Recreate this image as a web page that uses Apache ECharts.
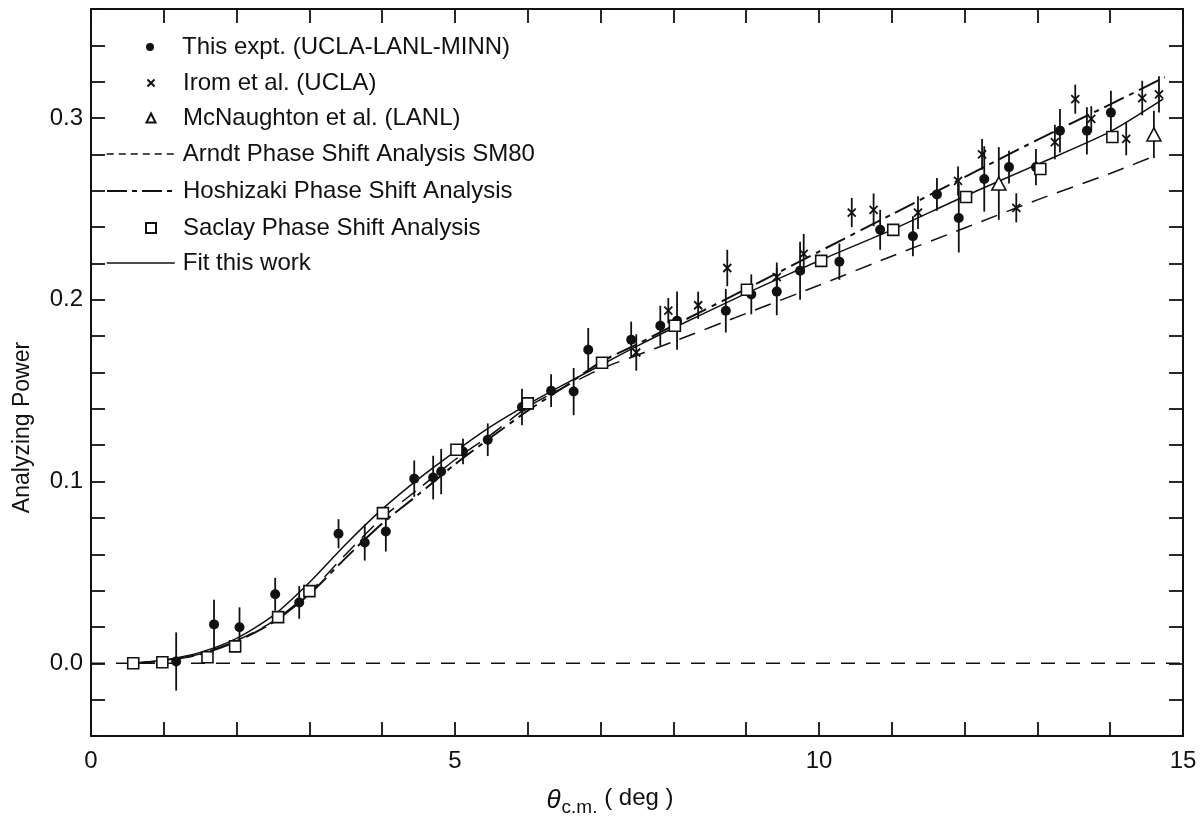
<!DOCTYPE html>
<html>
<head>
<meta charset="utf-8">
<script src="https://cdn.jsdelivr.net/npm/echarts@6/dist/echarts.min.js"></script>
<style>
html,body{margin:0;padding:0;background:#fff;overflow:hidden;}
#chart{width:1203px;height:819px;}
</style>
</head>
<body>
<div id="chart"></div>
<script>
// ---- Data ----
const exptX = [1.17,1.69,2.04,2.53,2.86,3.40,3.76,4.05,4.44,4.70,4.81,5.11,5.45,5.92,6.32,6.63,6.83,7.42,7.82,8.05,8.72,9.07,9.42,9.74,10.28,10.84,11.29,11.62,11.92,12.27,12.61,12.98,13.31,13.68,14.01];
const exptY = [0.001,0.0214,0.0198,0.038,0.0335,0.0713,0.0665,0.0725,0.1016,0.1022,0.1055,0.1165,0.123,0.141,0.150,0.1495,0.1725,0.178,0.1857,0.1885,0.194,0.203,0.2045,0.216,0.221,0.2385,0.235,0.258,0.245,0.2665,0.273,0.273,0.293,0.293,0.303];
const exptErr = [0.016,0.0135,0.011,0.009,0.009,0.008,0.01,0.011,0.01,0.012,0.0125,0.007,0.009,0.01,0.009,0.013,0.012,0.01,0.011,0.016,0.012,0.011,0.013,0.016,0.01,0.011,0.011,0.009,0.019,0.018,0.009,0.01,0.012,0.013,0.012];

const iromX = [7.49,7.93,8.34,8.74,9.42,9.79,10.45,10.75,11.36,11.91,12.24,12.71,13.24,13.52,13.74,14.22,14.44,14.67];
const iromY = [0.171,0.194,0.197,0.2175,0.2125,0.2253,0.248,0.2495,0.248,0.2654,0.280,0.2506,0.2868,0.3104,0.2995,0.2885,0.311,0.313];
const iromErr = [0.01,0.007,0.0075,0.01,0.008,0.011,0.008,0.009,0.009,0.008,0.0085,0.008,0.0095,0.008,0.007,0.009,0.0095,0.01];

const mcnX = [12.47,14.6];
const mcnY = [0.264,0.291];
const mcnErr = [0.02,0.013];

const saclayX = [0.58,0.98,1.6,1.98,2.57,3.0,4.01,5.02,6.0,7.02,8.02,9.01,10.03,11.02,12.02,13.04,14.03];
const saclayY = [0.0,0.0006,0.0033,0.0093,0.0254,0.0397,0.0826,0.1175,0.143,0.1654,0.1857,0.2055,0.2214,0.2385,0.2566,0.272,0.2896];

const arndtX = [0.58,1.0,1.5,2.0,2.5,3.0,3.5,4.0,4.5,5.0,5.5,6.0,6.5,7.0,7.5,8.0,9.0,10.0,11.0,12.0,13.0,14.0,14.6];
const arndtY = [0.0,0.0015,0.0052,0.0125,0.023,0.039,0.060,0.080,0.096,0.112,0.126,0.141,0.152,0.162,0.1695,0.177,0.1925,0.208,0.224,0.2395,0.255,0.2695,0.279];

const hoshX = [0.58,1.0,1.5,2.0,2.5,3.0,3.5,4.0,4.5,5.0,5.5,6.0,6.5,7.0,7.5,8.0,9.0,10.0,11.0,12.0,13.0,14.0,14.75];
const hoshY = [0.0,0.0015,0.005,0.012,0.0225,0.038,0.058,0.077,0.093,0.1095,0.1245,0.139,0.152,0.1657,0.1755,0.1858,0.206,0.2265,0.247,0.2675,0.288,0.3075,0.3225];

const fitX = [0.58,1.0,1.5,2.0,2.5,3.0,3.5,4.0,4.5,5.0,5.5,6.0,6.5,7.0,7.5,8.0,9.0,10.0,11.0,12.0,13.0,14.0,14.73];
const fitY = [0.0,0.0018,0.006,0.0137,0.0262,0.0445,0.0655,0.0848,0.1015,0.1165,0.1305,0.1425,0.1535,0.164,0.1745,0.1845,0.2035,0.2215,0.2385,0.257,0.2745,0.2925,0.3105];

const zeroX = [0, 15];
const zeroY = [0, 0];

const xTickLabels = [0, 5, 10, 15];
const yTickLabels = [0.0, 0.1, 0.2, 0.3];

const NAMES = {
  expt: 'This expt. (UCLA-LANL-MINN)',
  irom: 'Irom et al. (UCLA)',
  mcn: 'McNaughton et al. (LANL)',
  arndt: 'Arndt Phase Shift Analysis SM80',
  hosh: 'Hoshizaki Phase Shift Analysis',
  saclay: 'Saclay Phase Shift Analysis',
  fit: 'Fit this work'
};

// ---- helpers ----
const zip = (xs, ys) => xs.map((x, i) => [x, ys[i]]);
const zip3 = (xs, ys, es) => xs.map((x, i) => [x, ys[i], es[i]]);
const FONT = "'Liberation Sans', Arial, sans-serif";
const BLACK = '#111';

function errorBars(data) {
  return {
    type: 'custom',
    silent: true,
    z: 3,
    data: data,
    encode: { x: 0, y: 1 },
    renderItem: function (params, api) {
      const x = api.value(0), y = api.value(1), e = api.value(2);
      const p1 = api.coord([x, y - e]);
      const p2 = api.coord([x, y + e]);
      return {
        type: 'line',
        shape: { x1: p1[0], y1: p1[1], x2: p2[0], y2: p2[1] },
        style: { stroke: BLACK, lineWidth: 1.8 }
      };
    }
  };
}

const crossPath = 'path://M0,0 L10,10 M10,0 L0,10';

function legendRow(name, centerY, kind, extra) {
  const base = {
    show: true,
    data: [name],
    orient: 'vertical',
    selectedMode: false,
    padding: 0,
    textStyle: { fontFamily: FONT, fontSize: 24, color: BLACK, lineHeight: 24 },
    top: centerY - 12
  };
  if (kind === 'symbol') {
    base.itemWidth = extra.size || 9;
    base.itemHeight = extra.size || 9;
    base.left = 150 - base.itemWidth / 2;
    base.textStyle.padding = [0, 0, 0, 182 - (base.left + base.itemWidth + 5)];
  } else {
    base.itemWidth = 68;
    base.itemHeight = 10;
    base.left = 106;
    base.textStyle.padding = [0, 0, 0, 182 - (106 + 68 + 5)];
    base.lineStyle = extra.lineStyle;
    base.itemStyle = { opacity: 0 };
  }
  return base;
}

const chart = echarts.init(document.getElementById('chart'), null, { renderer: 'canvas', width: 1203, height: 819 });

const axisCommon = {
  axisLine: { show: true, onZero: false, lineStyle: { color: BLACK, width: 2 } },
  axisTick: { show: true, inside: true, length: 14, lineStyle: { color: BLACK, width: 1.8 } },
  splitLine: { show: false }
};

const option = {
  backgroundColor: '#fff',
  animation: false,
  color: [BLACK],
  grid: { left: 91, right: 20, top: 9, bottom: 83, containLabel: false, outerBoundsMode: 'none' },
  legend: [
    legendRow(NAMES.expt, 47, 'symbol', { size: 8 }),
    legendRow(NAMES.irom, 83, 'symbol', { size: 7 }),
    legendRow(NAMES.mcn, 118, 'symbol', { size: 9 }),
    legendRow(NAMES.arndt, 154, 'line', { lineStyle: { type: [7, 5], width: 1.5, color: BLACK, opacity: 1 } }),
    legendRow(NAMES.hosh, 191, 'line', { lineStyle: { type: [20, 5, 5, 5], width: 2, color: BLACK, opacity: 1 } }),
    legendRow(NAMES.saclay, 228, 'symbol', { size: 10 }),
    legendRow(NAMES.fit, 263, 'line', { lineStyle: { type: 'solid', width: 1.5, color: BLACK, opacity: 1 } })
  ],
  xAxis: [
    Object.assign({
      type: 'value', position: 'bottom', min: 0, max: 15, interval: 1,
      name: '{t|θ}{s|c.m.}{n| ( deg )}',
      nameLocation: 'middle', nameGap: 48,
      nameTextStyle: {
        padding: [0, 54, 0, 0],
        rich: {
          t: { fontFamily: FONT, fontSize: 26, fontStyle: 'italic', color: BLACK, verticalAlign: 'middle' },
          s: { fontFamily: FONT, fontSize: 19, color: BLACK, padding: [14, 0, 0, 1] },
          n: { fontFamily: FONT, fontSize: 24, color: BLACK, padding: [0, 0, 4, 0] }
        }
      },
      axisLabel: {
        show: true, margin: 13, fontFamily: FONT, fontSize: 24, color: BLACK,
        formatter: v => (xTickLabels.indexOf(v) >= 0 ? String(v) : '')
      }
    }, axisCommon),
    Object.assign({
      type: 'value', position: 'top', min: 0, max: 15, interval: 1,
      axisLabel: { show: false }
    }, axisCommon)
  ],
  yAxis: [
    Object.assign({
      type: 'value', position: 'left', min: -0.04, max: 0.36, interval: 0.02,
      name: 'Analyzing Power', nameLocation: 'middle', nameGap: 57, nameRotate: 90,
      nameTextStyle: { fontFamily: FONT, fontSize: 23, color: BLACK, padding: [0, 110, 0, 0] },
      axisLabel: {
        show: true, margin: 8, fontFamily: FONT, fontSize: 24, color: BLACK,
        formatter: function (v) {
          const r = Math.round(v * 10) / 10 + 0;
          if (Math.abs(v - r) > 1e-6) return '';
          return yTickLabels.some(t => Math.abs(t - r) < 1e-6) ? r.toFixed(1) : '';
        }
      }
    }, axisCommon),
    Object.assign({
      type: 'value', position: 'right', min: -0.04, max: 0.36, interval: 0.02,
      axisLabel: { show: false }
    }, axisCommon)
  ],
  series: [
    {
      name: 'zero', type: 'line', data: zip(zeroX, zeroY), symbol: 'none', silent: true,
      lineStyle: { color: BLACK, width: 1.5, type: [14, 11] }, z: 1
    },
    {
      name: NAMES.arndt, type: 'line', data: zip(arndtX, arndtY), symbol: 'none', color: BLACK,
      smooth: 0.25, lineStyle: { color: BLACK, width: 1.5, type: [17, 10] }, z: 2
    },
    {
      name: NAMES.hosh, type: 'line', data: zip(hoshX, hoshY), symbol: 'none', color: BLACK,
      smooth: 0.25, lineStyle: { color: BLACK, width: 2, type: [22, 6, 5, 6] }, z: 2
    },
    {
      name: NAMES.fit, type: 'line', data: zip(fitX, fitY), symbol: 'none', color: BLACK,
      smooth: 0.25, lineStyle: { color: BLACK, width: 1.5, type: 'solid' }, z: 2
    },
    errorBars(zip3(exptX, exptY, exptErr)),
    errorBars(zip3(iromX, iromY, iromErr)),
    errorBars(zip3(mcnX, mcnY, mcnErr)),
    {
      name: NAMES.expt, type: 'scatter', data: zip(exptX, exptY), symbol: 'circle', symbolSize: 10,
      itemStyle: { color: BLACK, opacity: 1 }, z: 5
    },
    {
      name: NAMES.irom, type: 'scatter', data: zip(iromX, iromY), symbol: crossPath, symbolSize: 8,
      itemStyle: { color: 'transparent', borderColor: BLACK, borderWidth: 1.8, opacity: 1 }, z: 5
    },
    {
      name: NAMES.mcn, type: 'scatter', data: zip(mcnX, mcnY), symbol: 'triangle', symbolSize: [14, 13],
      itemStyle: { color: '#fff', borderColor: BLACK, borderWidth: 1.6, opacity: 1 }, z: 5
    },
    {
      name: NAMES.saclay, type: 'scatter', data: zip(saclayX, saclayY), symbol: 'rect', symbolSize: 11,
      itemStyle: { color: '#fff', borderColor: BLACK, borderWidth: 1.6, opacity: 1 }, z: 5
    }
  ]
};

chart.setOption(option);
</script>
</body>
</html>
